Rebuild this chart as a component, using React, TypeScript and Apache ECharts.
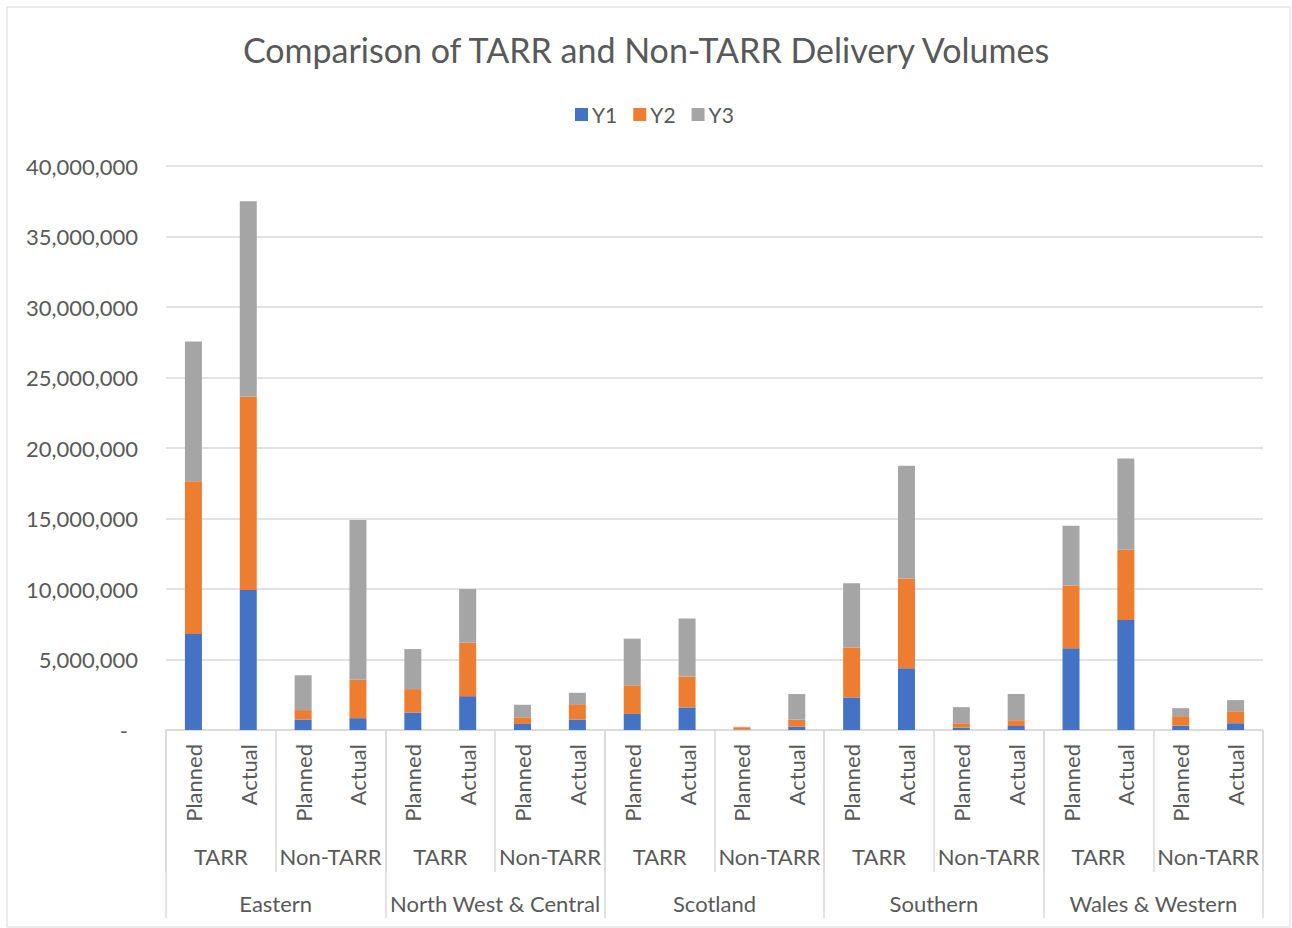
import React, { useEffect, useRef } from "react";
import * as echarts from "echarts";

const bars = [
  "Planned", "Actual", "Planned", "Actual", "Planned", "Actual", "Planned", "Actual", "Planned", "Actual",
  "Planned", "Actual", "Planned", "Actual", "Planned", "Actual", "Planned", "Actual", "Planned", "Actual",
];
const types = ["TARR", "Non-TARR", "TARR", "Non-TARR", "TARR", "Non-TARR", "TARR", "Non-TARR", "TARR", "Non-TARR"];
const regions = ["Eastern", "North West & Central", "Scotland", "Southern", "Wales & Western"];

const y1 = [
  6800000, 9930000, 740000, 840000,
  1240000, 2400000, 430000, 740000,
  1140000, 1600000, 20000, 240000,
  2310000, 4380000, 170000, 290000,
  5790000, 7810000, 310000, 480000,
];
const y2 = [
  10850000, 13720000, 670000, 2720000,
  1660000, 3790000, 470000, 1090000,
  2030000, 2190000, 170000, 500000,
  3550000, 6360000, 310000, 400000,
  4450000, 4980000, 670000, 850000,
];
const y3 = [
  9900000, 13850000, 2470000, 11330000,
  2840000, 3810000, 890000, 810000,
  3310000, 4110000, 40000, 1810000,
  4540000, 8000000, 1140000, 1860000,
  4240000, 6470000, 570000, 790000,
];

const FONT = "Lato";
const TEXT = "#595959";
const GRID = "#d9d9d9";
const FS = 22;

export default function App() {
  const ref = useRef<HTMLDivElement>(null);
  useEffect(() => {
    document.body.style.margin = "0";
    const chart = echarts.init(ref.current!, undefined, { renderer: "svg" });
    const mk = (name: string, data: number[], color: string) => ({
      name,
      type: "bar",
      stack: "total",
      data,
      xAxisIndex: 0,
      barWidth: 17,
      itemStyle: { color },
    });
    chart.setOption({
      animation: false,
      backgroundColor: "#fff",
      textStyle: { fontFamily: FONT },
      title: {
        text: "Comparison of TARR and Non-TARR Delivery Volumes",
        left: "center",
        top: 27,
        textStyle: { fontFamily: FONT, fontSize: 34, fontWeight: "normal", color: TEXT },
      },
      legend: {
        top: 99,
        left: 570,
        itemWidth: 13,
        itemHeight: 13,
        itemGap: 16,
        icon: "rect",
        textStyle: { fontFamily: FONT, fontSize: 21, color: TEXT, padding: [0, 0, 0, -1] },
        data: ["Y1", "Y2", "Y3"],
      },
      graphic: [
        {
          type: "rect",
          shape: { x: 7, y: 7, width: 1283, height: 920 },
          style: { fill: "none", stroke: GRID, lineWidth: 1 },
          silent: true,
        },
      ],
      grid: { left: 166, right: 29, top: 166, bottom: 198 },
      xAxis: [
        {
          type: "category",
          data: bars,
          axisLine: { show: true, lineStyle: { color: GRID, width: 1.5 } },
          axisTick: { show: false },
          axisLabel: { interval: 0, rotate: 90, margin: 14, fontSize: FS, color: TEXT, fontFamily: FONT },
        },
        {
          type: "category",
          data: types,
          position: "bottom",
          axisLine: { show: false },
          axisTick: { show: true, length: 142, lineStyle: { color: GRID, width: 1.5 } },
          axisLabel: { interval: 0, margin: 115, fontSize: FS, color: TEXT, fontFamily: FONT },
        },
        {
          type: "category",
          data: regions,
          position: "bottom",
          axisLine: { show: false },
          axisTick: { show: true, length: 188, lineStyle: { color: GRID, width: 1.5 } },
          axisLabel: { interval: 0, margin: 162, fontSize: FS, color: TEXT, fontFamily: FONT },
        },
      ],
      yAxis: {
        type: "value",
        min: 0,
        max: 40000000,
        interval: 5000000,
        axisLine: { show: false },
        axisTick: { show: false },
        splitLine: { lineStyle: { color: GRID, width: 1.5 } },
        axisLabel: {
          margin: 28,
          fontSize: FS,
          color: TEXT,
          fontFamily: FONT,
          formatter: (v: number) => (v === 0 ? "{d|-}" : v.toLocaleString("en-US")),
          rich: { d: { fontSize: FS, color: TEXT, fontFamily: FONT, padding: [0, 10, 0, 0] } },
        },
      },
      series: [mk("Y1", y1, "#4472C4"), mk("Y2", y2, "#ED7D31"), mk("Y3", y3, "#A5A5A5")],
    });
    return () => chart.dispose();
  }, []);
  return <div ref={ref} style={{ width: 1292, height: 928 }} />;
}
